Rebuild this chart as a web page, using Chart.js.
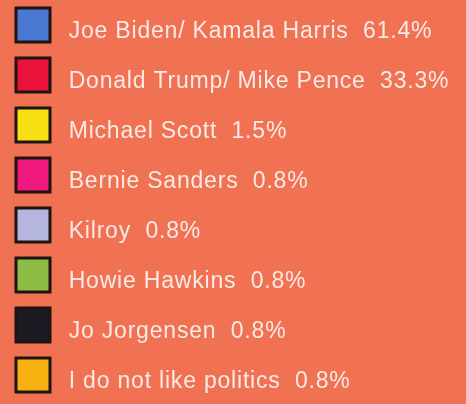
<!DOCTYPE html>
<html>
<head>
<meta charset="utf-8">
<script src="https://cdn.jsdelivr.net/npm/chart.js@4"></script>
<style>
  html, body { margin: 0; padding: 0; overflow: hidden; }
  #wrap {
    position: relative;
    width: 466px;
    height: 404px;
    overflow: hidden;
    background: #f07252;
  }
  #poll { position: absolute; left: -20px; top: -28px; }
</style>
</head>
<body>
<div id="wrap">
  <canvas id="poll" width="1000" height="480"></canvas>
</div>
<script>
  // Poll results
  const candidates = [
    'Joe Biden/ Kamala Harris',
    'Donald Trump/ Mike Pence',
    'Michael Scott',
    'Bernie Sanders',
    'Kilroy',
    'Howie Hawkins',
    'Jo Jorgensen',
    'I do not like politics'
  ];
  const percents = [61.4, 33.3, 1.5, 0.8, 0.8, 0.8, 0.8, 0.8];
  const sliceColors = [
    '#4a78d2',  // Biden
    '#e8123a',  // Trump
    '#f6e014',  // Scott
    '#f0187c',  // Sanders
    '#b4b6de',  // Kilroy
    '#8cbc44',  // Hawkins
    '#1c1a22',  // Jorgensen
    '#f6b010'   // no politics
  ];

  // slightly wider text spacing, applied before measuring and drawing
  const spacing = {
    id: 'spacing',
    beforeLayout(chart) {
      chart.ctx.letterSpacing = '0.8px';
    },
    beforeDraw(chart) {
      chart.ctx.letterSpacing = '0.8px';
    }
  };

  const pieLegend = Chart.overrides.pie.plugins.legend.labels.generateLabels;

  new Chart(document.getElementById('poll'), {
    type: 'pie',
    data: {
      labels: candidates,
      datasets: [{
        data: percents,
        backgroundColor: sliceColors,
        borderColor: '#1e1412',
        borderWidth: 3
      }]
    },
    options: {
      responsive: false,
      animation: false,
      layout: { padding: 0 },
      plugins: {
        tooltip: { enabled: false },
        legend: {
          position: 'left',
          align: 'start',
          labels: {
            boxWidth: 34,
            boxHeight: 34,
            padding: 36,
            color: '#fbeae6',
            // two-line labels with a small line height push the text a bit below the box centre
            font: { family: "'Liberation Sans', Arial, sans-serif", size: 23, lineHeight: '7px' },
            generateLabels(chart) {
              return pieLegend(chart).map((item, i) => {
                item.text = ['', ' ' + candidates[i] + '  ' + percents[i].toFixed(1) + '%'];
                return item;
              });
            }
          }
        }
      }
    },
    plugins: [spacing]
  });
</script>
</body>
</html>
